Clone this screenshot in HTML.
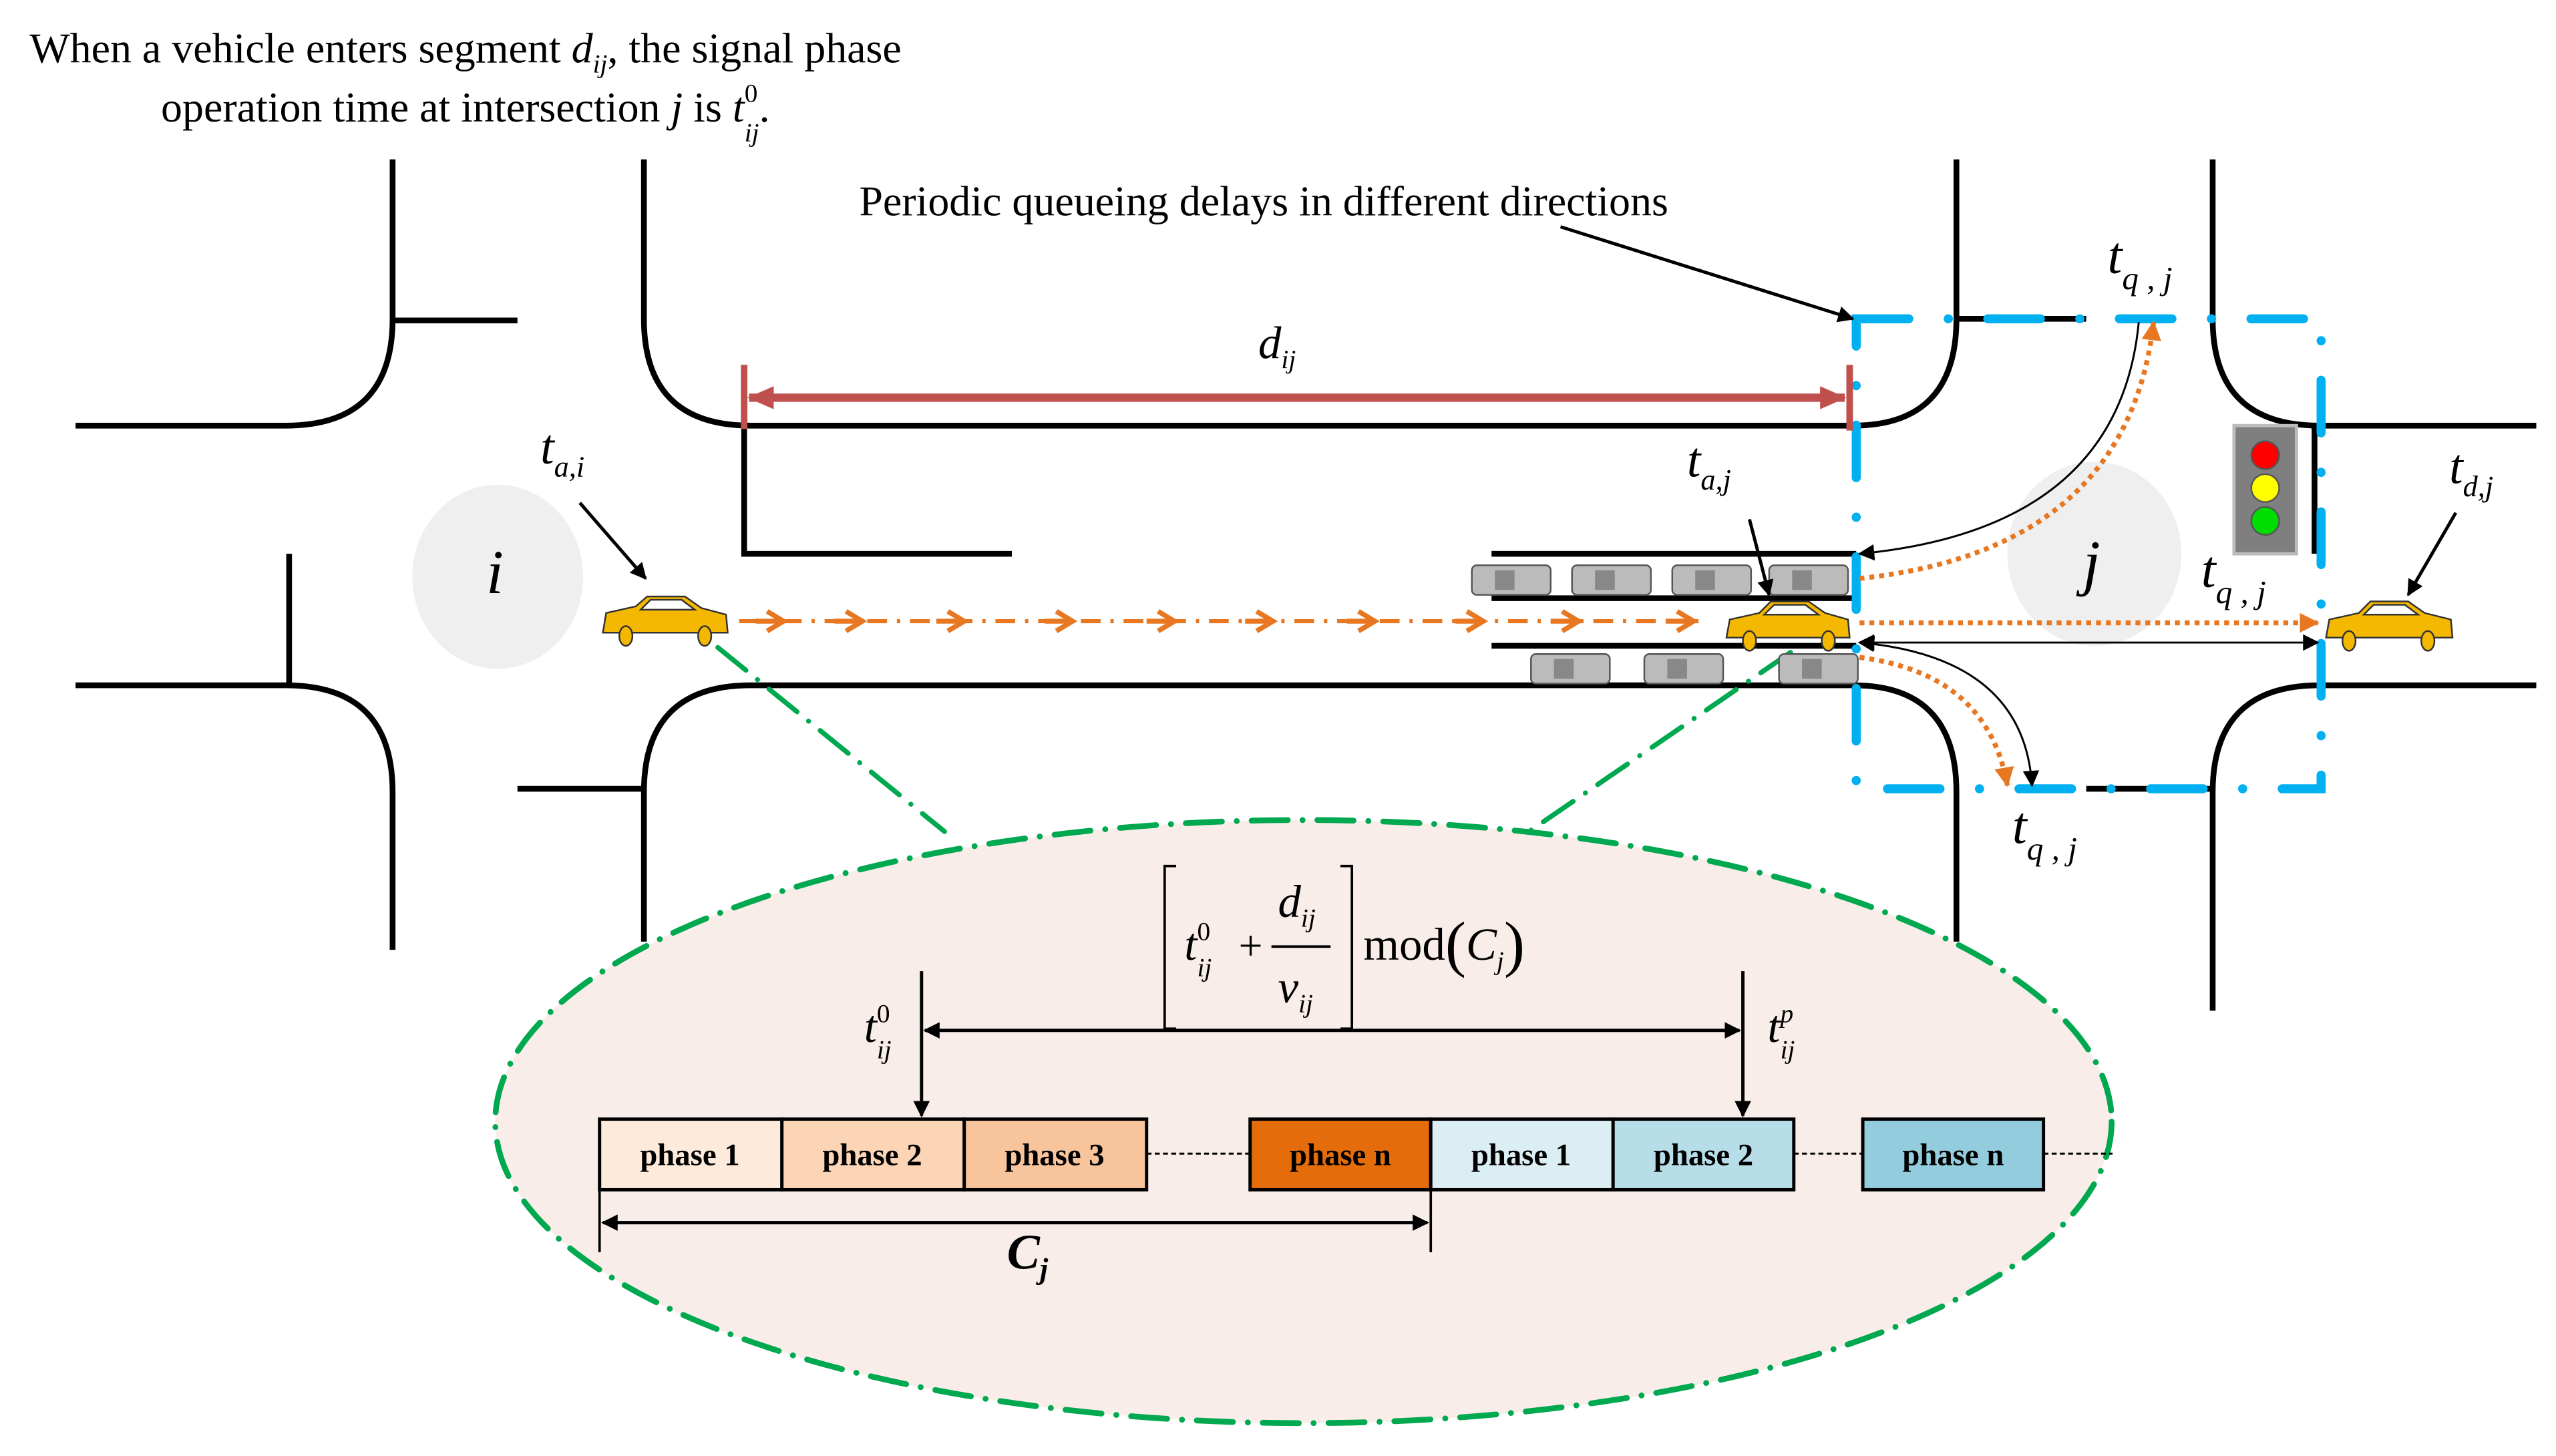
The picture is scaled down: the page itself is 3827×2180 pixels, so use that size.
<!DOCTYPE html>
<html><head><meta charset="utf-8"><style>html,body{margin:0;padding:0;background:#fff}svg{display:block}</style></head>
<body>
<svg width="3827" height="2180" viewBox="0 0 1556 886" preserveAspectRatio="none" xmlns="http://www.w3.org/2000/svg" font-family="Liberation Serif, serif">
<defs>
<marker id="ao" markerWidth="12" markerHeight="12" refX="11" refY="6" orient="auto" markerUnits="userSpaceOnUse"><path d="M0,0 L12,6 L0,12 Z" fill="#e87722"/></marker>
<marker id="ak" markerWidth="10" markerHeight="10" refX="9" refY="5" orient="auto" markerUnits="userSpaceOnUse"><path d="M0,0 L10,5 L0,10 Z" fill="#000"/></marker>
<marker id="akb" markerWidth="10" markerHeight="10" refX="1" refY="5" orient="auto" markerUnits="userSpaceOnUse"><path d="M10,0 L0,5 L10,10 Z" fill="#000"/></marker>
<marker id="ar" markerWidth="16" markerHeight="14" refX="15" refY="7" orient="auto" markerUnits="userSpaceOnUse"><path d="M0,0 L16,7 L0,14 Z" fill="#c0504d"/></marker>
<marker id="arb" markerWidth="16" markerHeight="14" refX="1" refY="7" orient="auto" markerUnits="userSpaceOnUse"><path d="M16,0 L0,7 L16,14 Z" fill="#c0504d"/></marker>
</defs>
<ellipse cx="303" cy="351" rx="52" ry="56" fill="#efefef"/>
<ellipse cx="1275" cy="337" rx="53" ry="56" fill="#efefef"/>
<g fill="none" stroke="#000" stroke-width="3.5">
<path d="M239,97 V194 Q239,259 174,259 H46"/>
<path d="M239,195 H315"/>
<path d="M392,97 V194 Q392,259 457,259 H1128 Q1191,259 1191,194 V97"/>
<path d="M1347,97 V194 Q1347,259 1412,259 H1544"/>
<path d="M46,417 H174 Q239,417 239,482 V578"/>
<path d="M176,337 V417"/>
<path d="M315,480 H392"/>
<path d="M392,573 V482 Q392,417 457,417 H1128 Q1191,417 1191,482 V573"/>
<path d="M1544,417 H1412 Q1347,417 1347,482 V615"/>
<path d="M1191,194 H1270"/>
<path d="M1270,480 H1347"/>
<path d="M1409,259 V337"/>
<path d="M453,259 V337 H616"/>
<path d="M908,337 H1130 M908,364 H1130 M908,393 H1130"/>
</g>
<path d="M1130,194 H1413 V480 H1130 Z" fill="none" stroke="#00b0f0" stroke-width="5.5" stroke-linecap="round" stroke-dasharray="32,24,0.1,24"/>
<rect x="1360" y="259" width="38" height="78" fill="#7f7f7f" stroke="#bbb" stroke-width="2"/>
<circle cx="1379" cy="277" r="8.5" fill="#f00" stroke="#555"/><circle cx="1379" cy="297" r="8.5" fill="#ff0" stroke="#555"/><circle cx="1379" cy="317" r="8.5" fill="#0d0" stroke="#555"/>
<ellipse cx="793.5" cy="682.5" rx="492" ry="183.5" fill="#f8ede9" stroke="#00a84f" stroke-width="3.5" stroke-linecap="round" stroke-dasharray="22,9,0.1,9"/>
<path d="M437,394 L575,506 M1090,397 L925,510" stroke="#00a84f" stroke-width="3" fill="none" stroke-linecap="round" stroke-dasharray="22,9,0.1,9"/>
<path d="M450,378 H1040" stroke="#e87722" stroke-width="2.5" fill="none" stroke-dasharray="12,6,2,6"/>
<g fill="none" stroke="#e87722" stroke-width="3">
<path d="M467,372 L477,378 L467,384 M515,372 L525,378 L515,384 M577,372 L587,378 L577,384 M643,372 L653,378 L643,384 M705,372 L715,378 L705,384 M765,372 L775,378 L765,384 M827,372 L837,378 L827,384 M893,372 L903,378 L893,384 M951,372 L961,378 L951,384 M1021,372 L1031,378 L1021,384"/>
<path d="M460,378 H477 M508,378 H525 M570,378 H587 M636,378 H653 M698,378 H715 M758,378 H775 M820,378 H837 M886,378 H903 M944,378 H961 M1014,378 H1031"/>
</g>
<g stroke="#e87722" stroke-width="3" fill="none" stroke-dasharray="3,3">
<path d="M1132,379 H1411" marker-end="url(#ao)"/>
<path d="M1132,352 Q1295,335 1311,196" marker-end="url(#ao)"/>
<path d="M1132,400 Q1210,410 1222,478" marker-end="url(#ao)"/>
</g>
<g stroke="#000" stroke-width="1.2" fill="none">
<path d="M1302,196 Q1290,322 1132,337" marker-end="url(#ak)"/>
<path d="M1132,391 H1411" marker-start="url(#akb)" marker-end="url(#ak)"/>
<path d="M1132,391 Q1232,400 1237,478" marker-start="url(#akb)" marker-end="url(#ak)"/>
</g>
<g stroke="#333" stroke-width="1">
<g fill="#f5b800"><path d="M367,385 L369,373 L387,369 L394,363 L417,363 L427,370 L442,374 L443,385 Z"/><path d="M1051,388 L1053,377 L1071,373 L1078,366 L1101,366 L1111,373 L1125,377 L1126,388 Z"/><path d="M1416,388 L1418,377 L1436,373 L1443,366 L1466,366 L1476,373 L1492,377 L1493,388 Z"/></g>
<g fill="#fff"><path d="M396,365 L415,365 L423,371 L390,371 Z"/><path d="M1080,368 L1099,368 L1107,374 L1074,374 Z"/><path d="M1445,368 L1464,368 L1472,374 L1439,374 Z"/></g>
<g fill="#f5b800"><ellipse cx="381" cy="387" rx="4" ry="6"/><ellipse cx="429" cy="387" rx="4" ry="6"/><ellipse cx="1065" cy="390" rx="4" ry="6"/><ellipse cx="1113" cy="390" rx="4" ry="6"/><ellipse cx="1430" cy="390" rx="4" ry="6"/><ellipse cx="1478" cy="390" rx="4" ry="6"/></g>
</g>
<g fill="#bbb" stroke="#555" stroke-width="1">
<rect x="896" y="344" width="48" height="18" rx="3"/><rect x="957" y="344" width="48" height="18" rx="3"/><rect x="1018" y="344" width="48" height="18" rx="3"/><rect x="1077" y="344" width="48" height="18" rx="3"/>
<rect x="932" y="398" width="48" height="18" rx="3"/><rect x="1001" y="398" width="48" height="18" rx="3"/><rect x="1083" y="398" width="48" height="18" rx="3"/>
</g>
<g fill="#888"><rect x="910" y="347" width="12" height="12"/><rect x="971" y="347" width="12" height="12"/><rect x="1032" y="347" width="12" height="12"/><rect x="1091" y="347" width="12" height="12"/><rect x="946" y="401" width="12" height="12"/><rect x="1015" y="401" width="12" height="12"/><rect x="1097" y="401" width="12" height="12"/></g>
<path d="M456,242 H1123" stroke="#c0504d" stroke-width="5" marker-start="url(#arb)" marker-end="url(#ar)"/>
<path d="M453,222 V261 M1126,222 V262" stroke="#c0504d" stroke-width="4"/>
<text x="766" y="218" font-size="28" font-style="italic">d<tspan font-size="16" dy="6">ij</tspan></text>
<g stroke="#000" stroke-width="2" fill="none">
<path d="M950,138 L1128,194" marker-end="url(#ak)"/>
<path d="M353,306 L393,352" marker-end="url(#ak)"/>
<path d="M1065,316 L1077,362" marker-end="url(#ak)"/>
<path d="M1495,312 L1466,362" marker-end="url(#ak)"/>
</g>
<text x="18" y="38" font-size="26">When a vehicle enters segment <tspan font-style="italic">d</tspan><tspan font-style="italic" font-size="16" dy="6">ij</tspan><tspan dy="-6">, the signal phase</tspan></text>
<text x="98" y="74" font-size="26">operation time at intersection <tspan font-style="italic">j</tspan> is <tspan font-style="italic">t</tspan><tspan font-size="16" dy="-12">0</tspan><tspan font-size="16" font-style="italic" dx="-8" dy="24">ij</tspan><tspan dy="-12">.</tspan></text>
<text x="523" y="131" font-size="26">Periodic queueing delays in different directions</text>
<text x="329" y="282" font-size="30" font-style="italic">t<tspan font-size="18" dy="8">a,i</tspan></text>
<text x="1027" y="290" font-size="30" font-style="italic">t<tspan font-size="18" dy="8">a,j</tspan></text>
<text x="1491" y="294" font-size="30" font-style="italic">t<tspan font-size="18" dy="8">d,j</tspan></text>
<text x="1283" y="166" font-size="32" font-style="italic">t<tspan font-size="20" dy="10">q , j</tspan></text>
<text x="1340" y="357" font-size="32" font-style="italic">t<tspan font-size="20" dy="10">q , j</tspan></text>
<text x="1225" y="513" font-size="32" font-style="italic">t<tspan font-size="20" dy="10">q , j</tspan></text>
<text x="296" y="361" font-size="38" font-style="italic">i</text>
<text x="1268" y="355" font-size="38" font-style="italic">j</text>
<path d="M716,527 H709 V626 H716 M816,527 H823 V626 H816" stroke="#000" stroke-width="1.5" fill="none"/>
<text x="721" y="584" font-size="28" font-style="italic">t<tspan font-size="16" dy="-12" font-style="normal">0</tspan><tspan font-size="16" dx="-8" dy="22">ij</tspan></text>
<text x="754" y="584" font-size="26">+</text>
<text x="778" y="558" font-size="28" font-style="italic">d<tspan font-size="16" dy="6">ij</tspan></text>
<path d="M774,576 H810" stroke="#000" stroke-width="1.5"/>
<text x="778" y="610" font-size="28" font-style="italic">v<tspan font-size="16" dy="6">ij</tspan></text>
<text x="830" y="584" font-size="28">mod<tspan font-size="38" dy="3">(</tspan><tspan font-style="italic" dy="-3">C</tspan><tspan font-style="italic" font-size="16" dy="6">j</tspan><tspan font-size="38" dy="-3">)</tspan></text>
<g stroke="#000" stroke-width="2" fill="none">
<path d="M561,591 V679" marker-end="url(#ak)"/>
<path d="M1061,591 V679" marker-end="url(#ak)"/>
<path d="M563,627 H1059" marker-start="url(#akb)" marker-end="url(#ak)"/>
<path d="M367,744 H869" marker-start="url(#akb)" marker-end="url(#ak)"/>
<path d="M365,724 V762 M871,724 V762" stroke-width="1.5"/>
<path d="M698,702 H761 M1092,702 H1134 M1244,702 H1286" stroke-width="1.2" stroke-dasharray="3,2"/>
</g>
<text x="526" y="634" font-size="28" font-style="italic">t<tspan font-size="16" dy="-12" font-style="normal">0</tspan><tspan font-size="16" dx="-8" dy="22">ij</tspan></text>
<text x="1076" y="634" font-size="28" font-style="italic">t<tspan font-size="16" dy="-12">p</tspan><tspan font-size="16" dx="-8" dy="22">ij</tspan></text>
<text x="613" y="772" font-size="30" font-weight="bold" font-style="italic">C<tspan font-size="18" dy="6">j</tspan></text>
<g stroke="#000" stroke-width="2">
<rect x="365" y="681" width="111" height="43" fill="#fdeada"/>
<rect x="476" y="681" width="111" height="43" fill="#fbd5b5"/>
<rect x="587" y="681" width="111" height="43" fill="#f8c49c"/>
<rect x="761" y="681" width="110" height="43" fill="#e46c0a"/>
<rect x="871" y="681" width="111" height="43" fill="#dbeef4"/>
<rect x="982" y="681" width="110" height="43" fill="#b7dee8"/>
<rect x="1134" y="681" width="110" height="43" fill="#93cddd"/>
</g>
<g font-size="19" font-weight="bold" text-anchor="middle">
<text x="420" y="709">phase 1</text><text x="531" y="709">phase 2</text><text x="642" y="709">phase 3</text>
<text x="816" y="709">phase n</text><text x="926" y="709">phase 1</text><text x="1037" y="709">phase 2</text><text x="1189" y="709">phase n</text>
</g>
</svg>
</body></html>
